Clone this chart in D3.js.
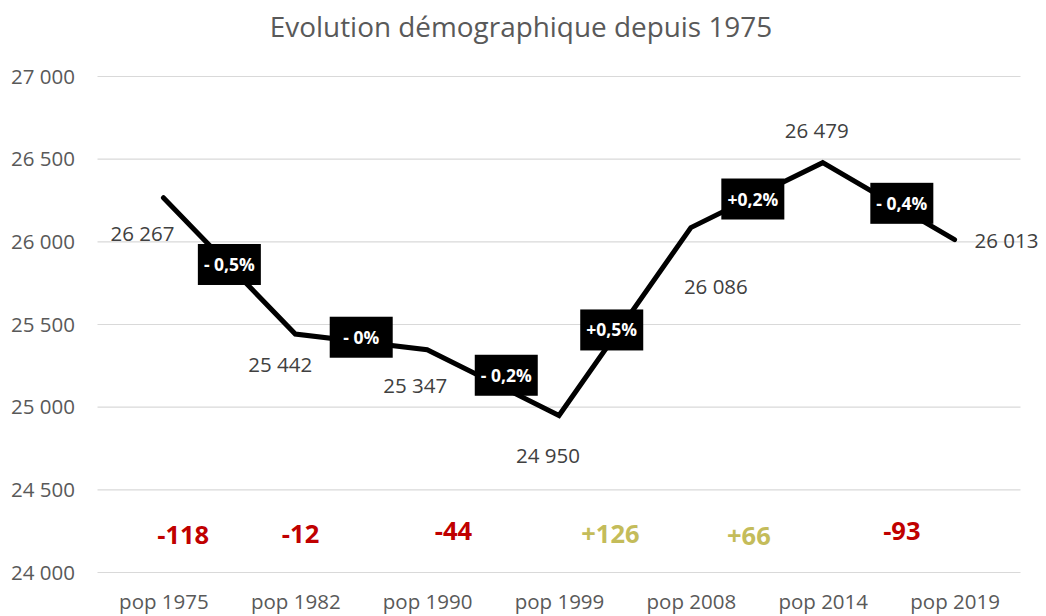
<!DOCTYPE html>
<html><head><meta charset="utf-8">
<script src="https://cdn.jsdelivr.net/npm/d3@7"></script>
<style>body{margin:0;background:#fff} svg{display:block}</style>
</head><body><svg id="c" width="1046" height="616"></svg>
<script>
// ---- data ----
const categories = ["pop 1975","pop 1982","pop 1990","pop 1999","pop 2008","pop 2014","pop 2019"];
const population = [26267,25442,25347,24950,26086,26479,26013];
const yTicks = [24000,24500,25000,25500,26000,26500,27000];
const rateLabels = ["- 0,5%","- 0%","- 0,2%","+0,5%","+0,2%","- 0,4%"];
const rateAt = [0.5,1.5,2.6,3.4,4.47,5.6];          // position along the category axis
const rateValue = [25863,25423,25193,25467,26259,26233];
const netChange = [-118,-12,-44,126,66,-93];
const netAt = [0.15,1.04,2.2,3.39,4.44,5.6];
const netValue = [24172,24178,24197,24177,24166,24197];
const title = "Evolution démographique depuis 1975";

// ---- drawing ----
const svg = d3.select("#c");
const m = {left: 97.5, right: 1020.5, top: 76.5, bottom: 572.5};
const font = "'Open Sans', sans-serif";
const loc = d3.formatLocale({decimal: ",", thousands: " ", grouping: [3], currency: ["", "€"]});
const fmt = loc.format(",");

const x = d3.scalePoint().domain(categories).range([m.left, m.right]).padding(0.5);
const xi = d3.scaleLinear().domain([0, categories.length - 1])
  .range([x(categories[0]), x(categories[categories.length - 1])]);
const y = d3.scaleLinear().domain([24000, 27000]).range([m.bottom, m.top]);

// title
svg.append("text").attr("x", 521).attr("y", 36.5).attr("text-anchor", "middle")
  .attr("font-family", font).attr("font-size", 27.9).attr("fill", "#595959").text(title);

// gridlines
svg.append("g").selectAll("line").data(yTicks).join("line")
  .attr("x1", m.left).attr("x2", m.right)
  .attr("y1", d => y(d)).attr("y2", d => y(d))
  .attr("stroke", "#d9d9d9").attr("stroke-width", 1.2);

// y axis labels
const yAxis = d3.axisLeft(y).tickValues(yTicks).tickFormat(fmt).tickSize(0).tickPadding(0);
const gy = svg.append("g").attr("transform", "translate(75,0)").call(yAxis);
gy.select(".domain").remove();
gy.selectAll("text").attr("font-family", font).attr("font-size", 20.5).attr("fill", "#595959");

// x axis labels
const xAxis = d3.axisBottom(x).tickSize(0).tickPadding(0);
const gx = svg.append("g").attr("transform", `translate(0,${m.bottom})`).call(xAxis);
gx.select(".domain").remove();
gx.selectAll("text").attr("font-family", font).attr("font-size", 20.5).attr("fill", "#595959")
  .attr("dy", null).attr("y", 36.5);

// line
const line = d3.line().x((d, i) => x(categories[i])).y(d => y(d));
svg.append("path").datum(population).attr("d", line)
  .attr("fill", "none").attr("stroke", "#000").attr("stroke-width", 5)
  .attr("stroke-linejoin", "miter").attr("stroke-linecap", "round");

// value labels
const place = [[-21,43],[-15,38],[-12,43],[-11,48],[25,66],[-6,-25],[52,8]];
svg.append("g").selectAll("text").data(population).join("text")
  .attr("x", (d, i) => x(categories[i]) + place[i][0])
  .attr("y", (d, i) => y(d) + place[i][1])
  .attr("text-anchor", "middle").attr("font-family", font).attr("font-size", 20.5)
  .attr("fill", "#404040").text(d => fmt(d));

// rate boxes
const gb = svg.append("g").selectAll("g").data(rateLabels).join("g")
  .attr("transform", (d, i) => `translate(${xi(rateAt[i])},${y(rateValue[i])})`);
gb.append("rect").attr("x", -31.5).attr("y", -20.5).attr("width", 63).attr("height", 41).attr("fill", "#000");
gb.append("text").attr("text-anchor", "middle").attr("y", 6.5)
  .attr("font-family", font).attr("font-weight", "bold").attr("font-size", 17.5)
  .attr("fill", "#fff").text(d => d);

// net change numbers
svg.append("g").selectAll("text").data(netChange).join("text")
  .attr("x", (d, i) => xi(netAt[i])).attr("y", (d, i) => y(netValue[i]))
  .attr("text-anchor", "middle").attr("font-family", font).attr("font-weight", "bold")
  .attr("font-size", 25.5).attr("fill", d => d < 0 ? "#C00000" : "#C4BC5A")
  .text(d => (d > 0 ? "+" : "-") + Math.abs(d));
</script></body></html>
